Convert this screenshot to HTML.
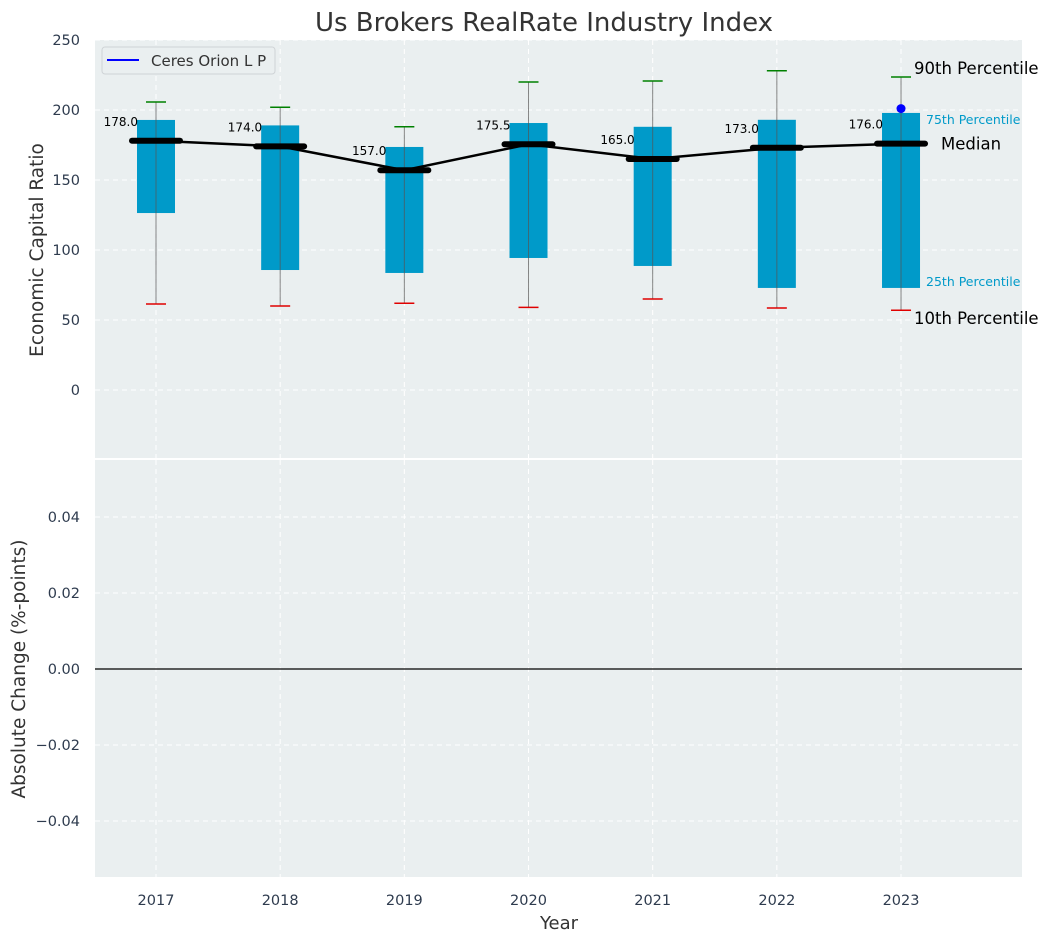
<!DOCTYPE html>
<html><head><meta charset="utf-8"><style>
body{margin:0;background:#fff;font-family:"Liberation Sans","DejaVu Sans",sans-serif}
svg text{font-family:"DejaVu Sans","Liberation Sans",sans-serif}
</style></head><body>
<svg id="chart" width="1049" height="942"></svg>
<script>
const years=[2017,2018,2019,2020,2021,2022,2023];
const p10=[61.4,60,62,59,65,58.6,57];
const q1=[126.4,85.7,83.6,94.3,88.6,72.9,72.9];
const medians=[178,174,157,175.5,165,173,176];
const q3=[192.9,189,173.6,190.7,188,193,197.9];
const p90=[205.7,202,188,220,220.7,228,223.6];
const companyYears=[2023];
const companyValues=[201];
const topTicks=[0,50,100,150,200,250];
const bottomTicks=[0.04,0.02,0,-0.02,-0.04];

const NS="http://www.w3.org/2000/svg";
const svg=document.getElementById('chart');
function el(t,a,p){const e=document.createElementNS(NS,t);for(const k in a)e.setAttribute(k,a[k]);(p||svg).appendChild(e);return e;}
const L=95,R=1022,T1=40,B1=458,T2=460,B2=877;
const xs=y=>156+(y-2017)*124.17;
const y1=v=>390-v*1.4;
const y2=v=>669-v*3800;

let e;
e=el('rect',{x:L,y:T1,width:R-L,height:B1-T1,fill:'#eaeff0'});

e=el('rect',{x:L,y:T2,width:R-L,height:B2-T2,fill:'#eaeff0'});


years.forEach(yr=>{
 el('line',{x1:xs(yr),x2:xs(yr),y1:T1,y2:B1,stroke:'#fff','stroke-dasharray':'5,4','stroke-width':1});
 el('line',{x1:xs(yr),x2:xs(yr),y1:T2,y2:B2,stroke:'#fff','stroke-dasharray':'5,4','stroke-width':1});
 e=el('text',{x:xs(yr),y:905,'text-anchor':'middle','font-size':14.5,fill:'#2e3b4e'});e.textContent=yr;
 
});
topTicks.forEach(v=>{
 el('line',{x1:L,x2:R,y1:y1(v),y2:y1(v),stroke:'#fff','stroke-dasharray':'5,4'});
 e=el('text',{x:80,y:y1(v)+5,'text-anchor':'end','font-size':14.5,fill:'#2e3b4e'});e.textContent=v;
 
});
bottomTicks.forEach(v=>{
 el('line',{x1:L,x2:R,y1:y2(v),y2:y2(v),stroke:'#fff','stroke-dasharray':'5,4'});
 e=el('text',{x:80,y:y2(v)+5,'text-anchor':'end','font-size':14.5,fill:'#2e3b4e'});e.textContent=(v<0?'\u2212':'')+Math.abs(v).toFixed(2);
 
});
e=el('line',{x1:L,x2:R,y1:y2(0),y2:y2(0),stroke:'#000','stroke-width':1.2});


years.forEach((yr,i)=>{
 const x=xs(yr);
 e=el('rect',{x:x-19,y:y1(q3[i]),width:38,height:y1(q1[i])-y1(q3[i]),fill:'#009ac9'});
 
 el('line',{x1:x,x2:x,y1:y1(p10[i]),y2:y1(p90[i]),stroke:'#555','stroke-width':1,opacity:0.7});
 e=el('line',{x1:x-10,x2:x+10,y1:y1(p90[i]),y2:y1(p90[i]),stroke:'#008000','stroke-width':1.5});
 
 e=el('line',{x1:x-10,x2:x+10,y1:y1(p10[i]),y2:y1(p10[i]),stroke:'#e00000','stroke-width':1.5});
 
});
let d=years.map((yr,i)=>(i?'L':'M')+xs(yr)+','+y1(medians[i])).join(' ');
e=el('path',{d:d,fill:'none',stroke:'#000','stroke-width':2.5});

years.forEach((yr,i)=>{
 const x=xs(yr);
 e=el('line',{x1:x-24,x2:x+24,y1:y1(medians[i]),y2:y1(medians[i]),stroke:'#000','stroke-width':6,'stroke-linecap':'round'});
 
 e=el('text',{x:x-18,y:y1(medians[i])-15,'text-anchor':'end','font-size':12,fill:'#000'});e.textContent=medians[i].toFixed(1);
 
});
companyYears.forEach((yr,i)=>{
 e=el('circle',{cx:xs(yr),cy:y1(companyValues[i]),r:4.5,fill:'#0000ff'});
 
});
const lx=xs(2023);
[['90th Percentile',lx+13,y1(p90[6])-3,16.5,'#000'],['75th Percentile',lx+25,y1(q3[6])+11,12.5,'#009ac9'],['Median',lx+40,y1(medians[6])+6,16.5,'#000'],['25th Percentile',lx+25,y1(q1[6])-2,12.5,'#009ac9'],['10th Percentile',lx+13,y1(p10[6])+14,16.5,'#000']].forEach(a=>{
 e=el('text',{x:a[1],y:a[2],'font-size':a[3],fill:a[4]});e.textContent=a[0];
 
});
const g=el('g',{});
el('rect',{x:102,y:47,width:173,height:27,rx:3,fill:'#eaeff0',stroke:'#cfd3d6'},g);
el('line',{x1:107,x2:139,y1:60,y2:60,stroke:'#0000ff','stroke-width':2},g);
e=el('text',{x:151,y:66,'font-size':15,fill:'#333'},g);e.textContent='Ceres Orion L P';
e=el('text',{x:544,y:31,'text-anchor':'middle','font-size':26,fill:'#333'});e.textContent='Us Brokers RealRate Industry Index';

e=el('text',{x:559,y:929,'text-anchor':'middle','font-size':18,fill:'#333'});e.textContent='Year';

e=el('text',{x:0,y:0,'text-anchor':'middle','font-size':18.5,fill:'#333',transform:'translate(43,250) rotate(-90)'});e.textContent='Economic Capital Ratio';

e=el('text',{x:0,y:0,'text-anchor':'middle','font-size':18.5,fill:'#333',transform:'translate(25,669) rotate(-90)'});e.textContent='Absolute Change (%-points)';

</script>
</body></html>
